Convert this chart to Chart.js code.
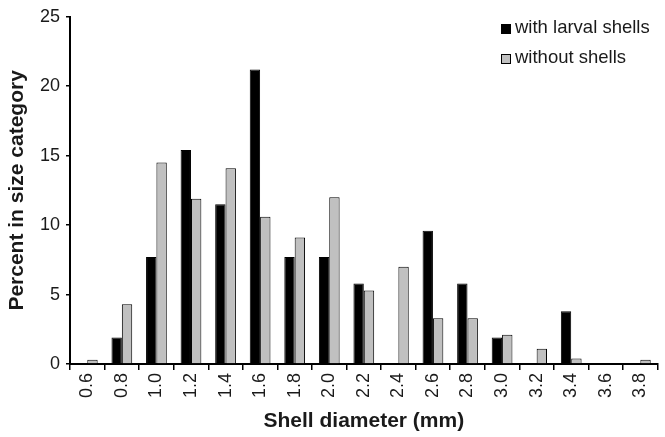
<!DOCTYPE html>
<html>
<head>
<meta charset="utf-8">
<script src="https://cdn.jsdelivr.net/npm/chart.js@4"></script>
<style>
  html, body { margin: 0; padding: 0; background: #fff; }
  #wrap { position: relative; width: 665px; height: 437px; }
  #legend { position: absolute; left: 501px; top: 12px; font-family: "Liberation Sans", Arial, sans-serif; font-size: 18.5px; color: #1a1a1a; }
  .item { display: flex; align-items: center; height: 30px; line-height: 30px; }
  .sw { width: 8px; height: 8px; border: 1px solid #000; margin-right: 4px; margin-top: 3px; }
</style>
</head>
<body>
<div id="wrap">
  <canvas id="c" width="665" height="437"></canvas>
  <div id="legend"></div>
</div>
<script>
const categories = ["0.6","0.8","1.0","1.2","1.4","1.6","1.8","2.0","2.2","2.4","2.6","2.8","3.0","3.2","3.4","3.6","3.8"];
const withLarvalShells = [0, 1.9, 7.7, 15.4, 11.5, 21.2, 7.7, 7.7, 5.8, 0, 9.6, 5.8, 1.9, 0, 3.8, 0, 0];
const withoutShells   = [0.3, 4.3, 14.5, 11.9, 14.1, 10.6, 9.1, 12.0, 5.3, 7.0, 3.3, 3.3, 2.1, 1.1, 0.4, 0, 0.3];
const yTicks = [0, 5, 10, 15, 20, 25];
const seriesNames = ["with larval shells", "without shells"];
const seriesColors = ["#000000", "#c0c0c0"];

const fontFamily = '"Liberation Sans", Arial, sans-serif';
const textColor = '#1a1a1a';

const chart = new Chart(document.getElementById('c'), {
  type: 'bar',
  data: {
    labels: categories,
    datasets: [
      { label: seriesNames[0], data: withLarvalShells, backgroundColor: seriesColors[0], borderColor: '#000', borderWidth: 1, categoryPercentage: 0.6, barPercentage: 1.0 },
      { label: seriesNames[1], data: withoutShells, backgroundColor: seriesColors[1], borderColor: '#000', borderWidth: 1, categoryPercentage: 0.6, barPercentage: 1.0 }
    ]
  },
  options: {
    responsive: false,
    animation: false,
    layout: { padding: { top: 14, right: 2, left: 0, bottom: 0 } },
    plugins: { legend: { display: false }, tooltip: { enabled: false } },
    scales: {
      x: {
        offset: true,
        grid: { display: true, offset: true, drawOnChartArea: false, drawTicks: true, tickLength: 6, color: '#000', lineWidth: 1.5 },
        border: { display: true, color: '#000', width: 2 },
        ticks: { color: textColor, font: { family: fontFamily, size: 18 }, minRotation: 90, maxRotation: 90, padding: 3, autoSkip: false },
        title: { display: true, text: 'Shell diameter (mm)', color: textColor, font: { family: fontFamily, size: 21, weight: 'bold' }, padding: { top: 0, bottom: 3 } },
        afterFit: (s) => { s.height = 73; }
      },
      y: {
        min: 0, max: 25,
        afterBuildTicks: (s) => { s.ticks = yTicks.map(v => ({ value: v })); },
        grid: { display: true, drawOnChartArea: false, drawTicks: true, tickLength: 4, color: '#000', lineWidth: 1.5 },
        border: { display: true, color: '#000', width: 2 },
        ticks: { color: textColor, font: { family: fontFamily, size: 18 }, padding: 6 },
        title: { display: true, text: 'Percent in size category', color: textColor, font: { family: fontFamily, size: 21, weight: 'bold' }, padding: { top: 5, bottom: 0 } },
        afterFit: (s) => { s.width = 70; }
      }
    }
  }
});

const legend = document.getElementById('legend');
chart.data.datasets.forEach((ds) => {
  const item = document.createElement('div');
  item.className = 'item';
  const sw = document.createElement('span');
  sw.className = 'sw';
  sw.style.background = ds.backgroundColor;
  const t = document.createElement('span');
  t.textContent = ds.label;
  item.appendChild(sw);
  item.appendChild(t);
  legend.appendChild(item);
});
</script>
</body>
</html>
